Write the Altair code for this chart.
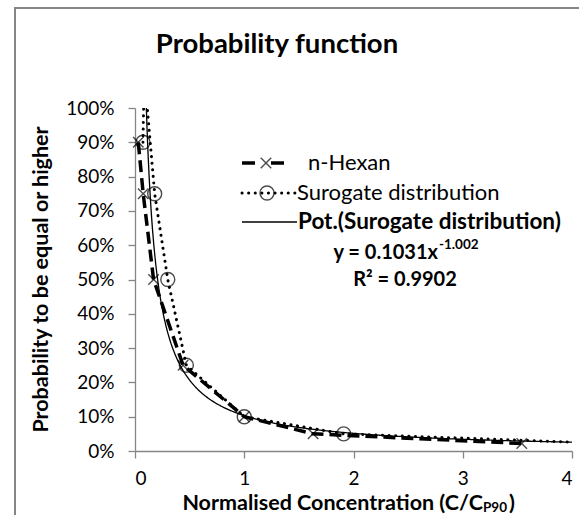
import altair as alt
import pandas as pd

# ---- data ----
hex_x = [0.03, 0.075, 0.17, 0.44, 1.0, 1.63, 3.54]
hex_p = [0.90, 0.75, 0.50, 0.25, 0.10, 0.05, 0.022]

sur_x = [0.073, 0.18, 0.30, 0.47, 1.0, 1.91]
sur_p = [0.90, 0.75, 0.50, 0.25, 0.10, 0.05]
# line continues past the visible frame (clipped)
sur_line_x = [0.085, 0.073, 0.18, 0.30, 0.47, 1.0, 1.91, 4.3]
sur_line_p = [1.10, 0.90, 0.75, 0.50, 0.25, 0.10, 0.05, 0.0225]

fit_a = 0.1031
fit_b = -1.002
fit_r2 = 0.9902

x_ticks = [0, 1, 2, 3, 4]
y_ticks = [0, 0.1, 0.2, 0.3, 0.4, 0.5, 0.6, 0.7, 0.8, 0.9, 1.0]

FONT = "Lato"
W, H = 437, 343

hex_df = pd.DataFrame({"x": hex_x, "p": hex_p})
sur_df = pd.DataFrame({"x": sur_x, "p": sur_p})
sur_line_df = pd.DataFrame({"x": sur_line_x, "p": sur_line_p})
one = pd.DataFrame({"k": [0]})

xs = alt.Scale(domain=[0, 4], nice=False, zero=False)
ys = alt.Scale(domain=[0, 1], nice=False)

X = alt.X("x:Q", scale=xs, axis=alt.Axis(values=x_ticks, format="d", title=None, grid=False,
          domainColor="#868686", tickColor="#868686", tickSize=7, labelPadding=11,
          labelFontSize=19, labelFont=FONT, labelColor="black", domainWidth=1.3, tickWidth=1.3))
Y = alt.Y("p:Q", scale=ys, axis=alt.Axis(values=y_ticks, format=".0%", title=None, grid=False,
          domainColor="#868686", tickColor="#868686", tickSize=7, labelPadding=14,
          labelFontSize=19, labelFont=FONT, labelColor="black", domainWidth=1.3, tickWidth=1.3))

XSHAPE = "M-1,-1L1,1M-1,1L1,-1"

frame = alt.Chart(one).mark_rect(fill=None, stroke="#868686", strokeWidth=2, clip=False).encode(
    x=alt.value(-120), x2=alt.value(W + 60), y=alt.value(-100), y2=alt.value(H + 100))

trend = alt.Chart(alt.sequence(0.1, 4.01, 0.01, as_="x")).transform_calculate(
    p=f"{fit_a} * pow(datum.x, {fit_b})"
).mark_line(color="black", strokeWidth=1.3, clip=True).encode(x=X, y=Y)

sur_line = alt.Chart(sur_line_df).mark_line(color="black", strokeWidth=3, strokeDash=[0.1, 6.5],
                                           strokeCap="round", clip=True).encode(x=X, y=Y, order=alt.value(0))
sur_pts = alt.Chart(sur_df).mark_point(shape="circle", size=196, color="black", filled=False,
                                       strokeWidth=1.4).encode(x=X, y=Y)

hex_line = alt.Chart(hex_df).mark_line(color="black", strokeWidth=3.5, strokeDash=[12, 6],
                                       clip=True).encode(x=X, y=Y)
hex_pts = alt.Chart(hex_df).mark_point(shape=XSHAPE, size=110, color="black", filled=False,
                                       strokeWidth=1.4).encode(x=X, y=Y)

def txt(s, x, y, size=19, bold=False, align="left", baseline="middle", angle=0):
    kw = dict(text=s, font=FONT, fontSize=size, fontWeight="bold" if bold else "normal",
              align=align, baseline=baseline, color="black")
    if angle:
        kw["angle"] = angle
    return alt.Chart(one).mark_text(**kw).encode(x=alt.value(x), y=alt.value(y))

# legend
leg_hex_line = alt.Chart(one).mark_rule(color="black", strokeWidth=3.5, strokeDash=[13, 16]).encode(
    x=alt.value(107), x2=alt.value(150), y=alt.value(55))
leg_hex_pt = alt.Chart(one).mark_point(shape=XSHAPE, size=110, color="black", filled=False,
                                       strokeWidth=1.4).encode(x=alt.value(131), y=alt.value(55))
leg_sur_line = alt.Chart(one).mark_rule(color="black", strokeWidth=3, strokeDash=[0.1, 6.5],
                                        strokeCap="round").encode(
    x=alt.value(107), x2=alt.value(160), y=alt.value(85))
leg_sur_pt = alt.Chart(one).mark_point(shape="circle", size=196, color="black", filled=False,
                                       strokeWidth=1.4).encode(x=alt.value(132), y=alt.value(85))
leg_fit_line = alt.Chart(one).mark_rule(color="black", strokeWidth=1.3).encode(
    x=alt.value(107), x2=alt.value(162), y=alt.value(114))

texts = [
    txt("Probability function", 142, -63, size=27.5, bold=True, align="center"),
    txt("Probability to be equal or higher", -93, H / 2, size=21.5, bold=True, align="center", angle=270),
    txt("Normalised Concentration (C/C", 348, 396, size=21.5, bold=True, align="right"),
    txt("P90", 348, 400, size=13.5, bold=True, align="left"),
    txt(")", 374, 396, size=21.5, bold=True, align="left"),
    txt("n-Hexan", 173, 55, size=22),
    txt("Surogate distribution", 162, 85, size=22),
    txt("Pot.(Surogate distribution)", 163, 114, size=22.5, bold=True),
    txt(f"y = {fit_a}x", 303, 145, size=20, bold=True, align="right"),
    txt(f"{fit_b}", 304, 137, size=13.5, bold=True, align="left"),
    txt(f"R² = {fit_r2}", 270, 172, size=20, bold=True, align="center"),
]

chart = alt.layer(
    frame, trend, sur_line, hex_line, sur_pts, hex_pts,
    leg_hex_line, leg_hex_pt, leg_sur_line, leg_sur_pt, leg_fit_line,
    *texts
).properties(
    width=W, height=H,
    autosize=alt.AutoSizeParams(type="none"),
    padding={"left": 135, "top": 108, "right": 7, "bottom": 64},
    background="white",
).configure_view(stroke=None)

chart.save("out.html", embed_options={"renderer": "svg", "actions": False})
